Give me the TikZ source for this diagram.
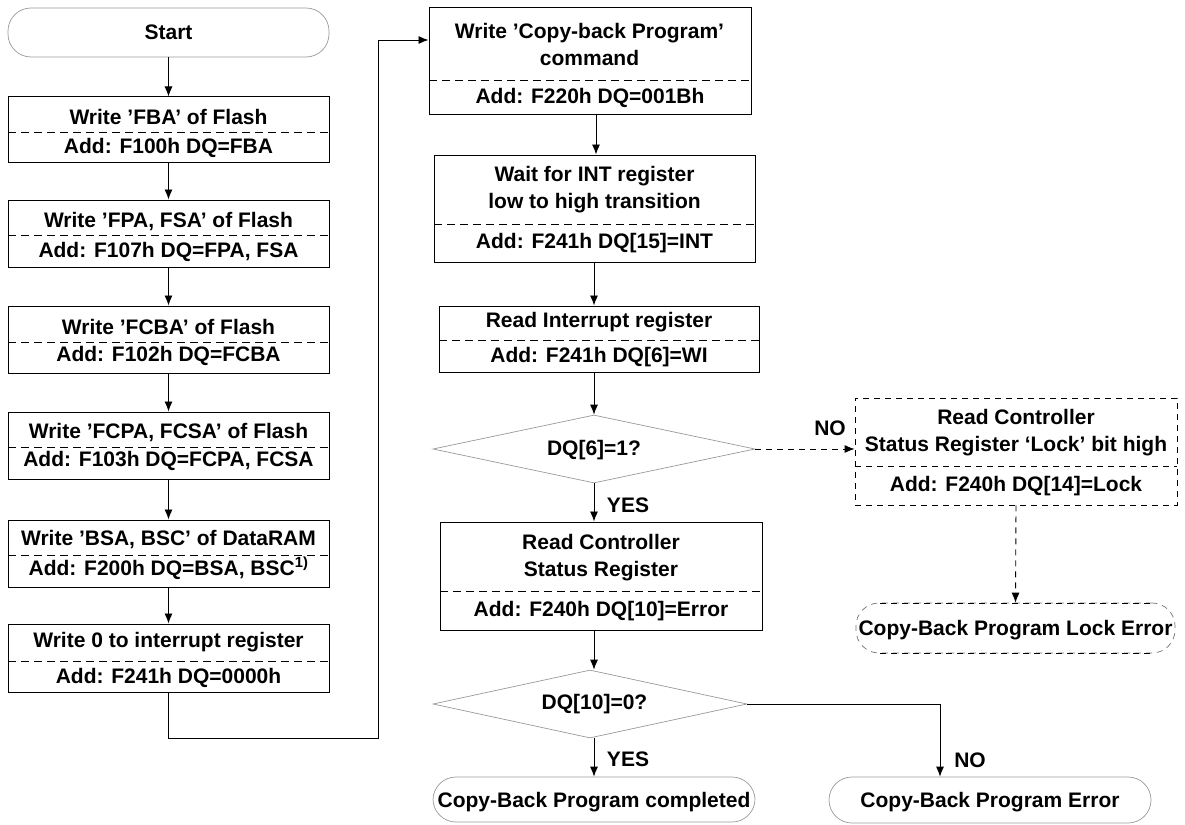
\documentclass[tikz,border=0pt]{standalone}
\usepackage{fontspec}
\setmainfont{Liberation Sans}
\usetikzlibrary{shapes.geometric,arrows.meta}
\begin{document}
\begin{tikzpicture}[x=1pt,y=-1pt,
  box/.style={draw, line width=1pt, inner sep=0pt},
  lbox/.style={box, dashed, dash pattern=on 6pt off 5pt, line width=0.8pt},
  term/.style={draw=black!40, line width=0.7pt, rounded corners=23pt, inner sep=0pt},
  dec/.style={draw=black!40, line width=0.7pt, diamond, shape aspect=4.7, inner sep=0pt},
  txt/.style={font=\fontsize{21}{27}\selectfont\bfseries, align=center, inner sep=0pt},
  lab/.style={font=\fontsize{21}{27}\selectfont\bfseries, inner sep=0pt},
  divl/.style={dash pattern=on 8pt off 5pt, line width=0.8pt},
  arr/.style={-{Latex[length=10pt,width=8pt]}, line width=0.9pt},
  darr/.style={arr, dash pattern=on 6pt off 5pt}]
\useasboundingbox (0,0) rectangle (1185,824);

% ---------- left column ----------
\node[term, minimum width=321pt, minimum height=49pt] (start) at (168.5,32.5) {};
\node[txt] (startt) at (168.5,32.5) {Start};

\node[box, minimum width=321pt, minimum height=65pt] (b1) at (168.5,129.5) {};
\draw[divl] (8,132) -- (329,132);
\node[txt] (b1a) at (168.5,117) {Write ’FBA’ of Flash};
\node[txt] (b1b) at (168.5,147.5) {Add: F100h DQ=FBA};

\node[box, minimum width=321pt, minimum height=67pt] (b2) at (168.5,233.5) {};
\draw[divl] (8,235) -- (329,235);
\node[txt] (b2a) at (168.5,221.5) {Write ’FPA, FSA’ of Flash};
\node[txt] (b2b) at (168.5,251.5) {Add: F107h DQ=FPA, FSA};

\node[box, minimum width=321pt, minimum height=67pt] (b3) at (168.5,339.5) {};
\draw[divl] (8,342) -- (329,342);
\node[txt] (b3a) at (168.5,327) {Write ’FCBA’ of Flash};
\node[txt] (b3b) at (168.5,356) {Add: F102h DQ=FCBA};

\node[box, minimum width=321pt, minimum height=67pt] (b4) at (168.5,445.5) {};
\draw[divl] (8,447) -- (329,447);
\node[txt] (b4a) at (168.5,433) {Write ’FCPA, FCSA’ of Flash};
\node[txt] (b4b) at (168.5,461) {Add: F103h DQ=FCPA, FCSA};

\node[box, minimum width=321pt, minimum height=67pt] (b5) at (168.5,553.5) {};
\draw[divl] (8,555) -- (329,555);
\node[txt] (b5a) at (168.5,540) {Write ’BSA, BSC’ of DataRAM};
\node[txt] (b5b) at (168.5,568) {Add: F200h DQ=BSA, BSC\textsuperscript{1)}};

\node[box, minimum width=321pt, minimum height=68pt] (b6) at (168.5,658) {};
\draw[divl] (8,661) -- (329,661);
\node[txt] (b6a) at (168.5,642) {Write 0 to interrupt register};
\node[txt] (b6b) at (168.5,677.5) {Add: F241h DQ=0000h};

\draw[arr] (start) -- (b1);
\draw[arr] (b1) -- (b2);
\draw[arr] (b2) -- (b3);
\draw[arr] (b3) -- (b4);
\draw[arr] (b4) -- (b5);
\draw[arr] (b5) -- (b6);

% ---------- right column ----------
\node[box, minimum width=322pt, minimum height=107pt] (b7) at (590,61.5) {};
\draw[divl] (429,80) -- (751,80);
\node[txt] (b7a) at (589.5,44) {Write ’Copy-back Program’\\command};
\node[txt] (b7b) at (590,97.5) {Add: F220h DQ=001Bh};

\coordinate (c1) at (378,738);
\coordinate (c2) at (378,40);
\draw[arr] (b6.south) |- (c1) -- (c2) -- (b7.west |- c2);

\node[box, minimum width=321pt, minimum height=107pt] (b8) at (594.5,208.5) {};
\draw[divl] (434,224) -- (755,224);
\node[txt] (b8a) at (594.5,190) {Wait for INT register\\low to high transition};
\node[txt] (b8b) at (594.5,243.5) {Add: F241h DQ[15]=INT};

\node[box, minimum width=320pt, minimum height=66pt] (b9) at (599,339) {};
\draw[divl] (439,340) -- (759,340);
\node[txt] (b9a) at (599,322.5) {Read Interrupt register};
\node[txt] (b9b) at (599,357.5) {Add: F241h DQ[6]=WI};

\node[dec, minimum width=322pt, minimum height=68pt] (d1) at (594,449) {};
\node[txt] (d1t) at (594,450) {DQ[6]=1?};

\node[box, minimum width=322pt, minimum height=108pt] (b10) at (601,576) {};
\draw[divl] (440,591) -- (762,591);
\node[txt] (b10a) at (601,557.5) {Read Controller\\Status Register};
\node[txt] (b10b) at (601,611) {Add: F240h DQ[10]=Error};

\node[dec, minimum width=314pt, minimum height=68pt] (d2) at (590,704) {};
\node[txt] (d2t) at (594.5,704) {DQ[10]=0?};

\node[term, minimum width=322pt, minimum height=45pt] (e1) at (594,799.5) {};
\node[txt] (e1t) at (594,802) {Copy-Back Program completed};

\node[term, minimum width=322pt, minimum height=46pt] (e2) at (990,800) {};
\node[txt] (e2t) at (990,802) {Copy-Back Program Error};

\node[lbox, minimum width=322pt, minimum height=107pt] (lk) at (1016,451.5) {};
\draw[dash pattern=on 6pt off 5pt, line width=0.8pt] (855,466) -- (1177,466);
\node[txt] (lka) at (1016,432.5) {Read Controller\\Status Register ‘Lock’ bit high};
\node[txt] (lkb) at (1016,486.5) {Add: F240h DQ[14]=Lock};

\node[term, draw=black!55, dash pattern=on 6pt off 5pt, minimum width=319pt, minimum height=50pt] (le) at (1015.5,628) {};
\draw[dash pattern=on 6pt off 5pt, line width=0.8pt] (880,603) -- (1151,603);
\draw[dash pattern=on 6pt off 5pt, line width=0.8pt] (880,653) -- (1151,653);
\node[txt] (let) at (1015.5,630) {Copy-Back Program Lock Error};

\coordinate (cx) at (594,0);
\coordinate (cx7) at (596,0);
\draw[arr] (b7.south -| cx7) -- (b8.north -| cx7);
\draw[arr] (b8.south -| cx) -- (b9.north -| cx);
\draw[arr] (b9.south -| cx) -- (d1.north -| cx);
\draw[arr] (d1.south -| cx) -- (b10.north -| cx);
\draw[arr] (b10.south -| cx) -- (d2.north -| cx);
\draw[arr] (d2.south -| cx) -- (e1.north -| cx);
\node[lab] (yes1) at (628,505) {YES};
\node[lab] (yes2) at (628,759) {YES};

\draw[darr] (d1.east) -- (lk.west |- d1.east);
\node[lab] (no1) at (830,428) {NO};
\draw[darr] (lk.south) -- (le.north);

\coordinate (c3) at (940,704);
\draw[arr] (d2.east) -- (c3) -- (e2.north -| c3);
\node[lab] (no2) at (970,760) {NO};
\end{tikzpicture}
\end{document}
